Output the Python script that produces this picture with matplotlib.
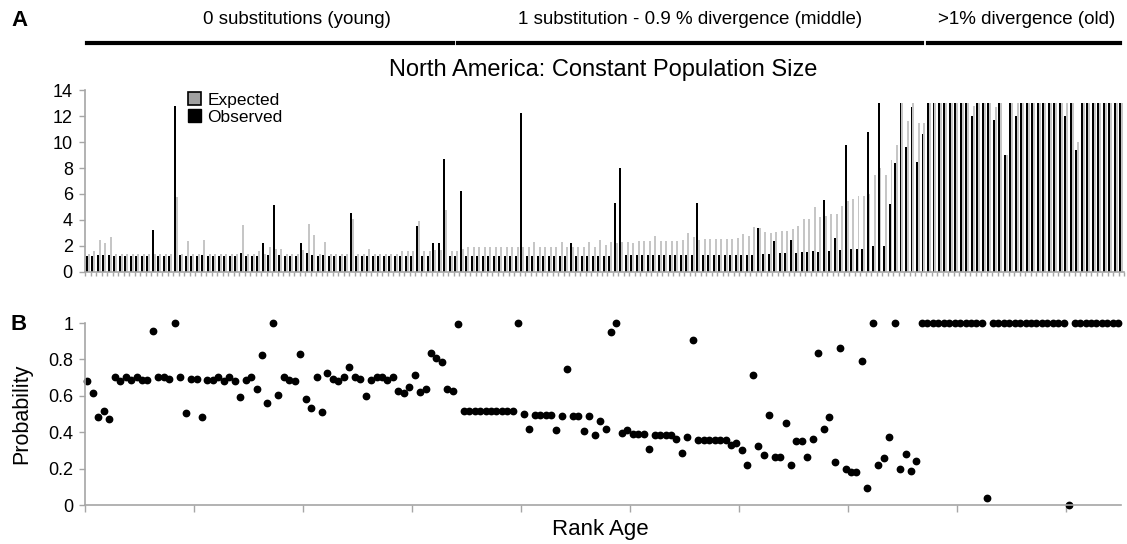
import numpy as np
import matplotlib.pyplot as plt
from matplotlib.patches import Patch
from matplotlib.lines import Line2D

plt.rcParams['font.family'] = ['Liberation Sans', 'DejaVu Sans']

# Panel A: expected vs observed counts per rank (values are cut off at 13)
observed = [
    1.2, 1.2, 1.3, 1.3, 1.3, 1.2, 1.2, 1.2, 1.2, 1.2,
    1.2, 1.2, 3.2, 1.2, 1.2, 1.2, 12.8, 1.3, 1.2, 1.2,
    1.2, 1.3, 1.2, 1.2, 1.2, 1.2, 1.2, 1.2, 1.5, 1.2,
    1.2, 1.2, 2.26, 1.3, 5.15, 1.3, 1.2, 1.2, 1.2, 2.26,
    1.5, 1.3, 1.2, 1.3, 1.2, 1.2, 1.2, 1.2, 4.56, 1.2,
    1.2, 1.2, 1.2, 1.2, 1.2, 1.2, 1.2, 1.2, 1.2, 1.2,
    3.54, 1.2, 1.2, 2.2, 2.26, 8.67, 1.2, 1.2, 6.26, 1.25,
    1.25, 1.25, 1.25, 1.25, 1.25, 1.25, 1.25, 1.25, 1.25, 12.26,
    1.25, 1.25, 1.25, 1.25, 1.25, 1.25, 1.25, 1.25, 2.26, 1.25,
    1.25, 1.25, 1.25, 1.25, 1.25, 1.25, 5.28, 7.97, 1.27, 1.27,
    1.27, 1.27, 1.27, 1.27, 1.27, 1.27, 1.27, 1.27, 1.27, 1.27,
    1.27, 5.33, 1.3, 1.3, 1.3, 1.3, 1.3, 1.3, 1.3, 1.3,
    1.3, 1.3, 3.38, 1.4, 1.4, 2.4, 1.45, 1.45, 2.46, 1.5,
    1.55, 1.55, 1.65, 1.55, 5.54, 1.6, 2.6, 1.7, 9.8, 1.75,
    1.8, 1.8, 10.8, 2.0, 13, 2.0, 5.2, 8.4, 13, 9.6,
    12.7, 8.5, 10.6, 13, 13, 13, 13, 13, 13, 13,
    13, 12.0, 13, 13, 13, 11.7, 13, 9.0, 13, 12.0,
    13, 13, 13, 13, 13, 13, 13, 13, 12.0, 13,
    9.4, 13, 13, 13, 13, 13, 13, 13, 13,
]

expected = [
    1.4, 1.6, 2.5, 2.2, 2.7, 1.4, 1.4, 1.4, 1.4, 1.4,
    1.4, 1.4, 1.4, 1.4, 1.4, 1.4, 5.8, 1.4, 2.4, 1.4,
    1.4, 2.5, 1.4, 1.4, 1.4, 1.4, 1.4, 1.4, 3.6, 1.4,
    1.4, 1.6, 1.4, 1.95, 1.8, 1.8, 1.4, 1.4, 1.4, 1.7,
    3.7, 2.85, 1.4, 2.3, 1.4, 1.4, 1.4, 1.4, 4.1, 1.4,
    1.4, 1.75, 1.4, 1.4, 1.4, 1.4, 1.4, 1.65, 1.65, 1.6,
    3.95, 1.65, 1.65, 1.7, 1.7, 4.8, 1.6, 1.65, 1.8, 1.9,
    1.9, 1.9, 1.9, 1.9, 1.9, 1.9, 1.9, 1.9, 1.9, 1.95,
    1.95, 2.33, 1.95, 1.95, 1.95, 1.95, 2.33, 1.95, 1.95, 1.95,
    1.95, 2.33, 1.95, 2.46, 2.1, 2.3, 2.2, 2.3, 2.3, 2.2,
    2.36, 2.36, 2.36, 2.8, 2.36, 2.36, 2.36, 2.36, 2.5, 3.0,
    2.67, 2.5, 2.54, 2.54, 2.54, 2.54, 2.54, 2.54, 2.6, 2.9,
    2.75, 3.46, 3.4, 3.1, 3.0, 3.08, 3.15, 3.15, 3.33, 3.56,
    4.05, 4.1, 5.0, 4.26, 4.3, 4.5, 4.5, 5.1, 5.5, 5.6,
    5.85, 5.85, 6.0, 7.5, 8.0, 7.5, 8.6, 9.8, 13, 11.6,
    13, 11.5, 11.5, 13, 13, 13, 13, 13, 13, 13,
    13, 12.8, 13, 13, 13, 12.7, 13, 9.0, 13, 13,
    13, 13, 13, 13, 13, 13, 13, 13, 13, 13,
    10.0, 13, 13, 13, 13, 13, 13, 13, 13,
]

# Panel B: probability per rank
probability = [
    0.684, 0.618, 0.486, 0.519, 0.475, 0.705, 0.684, 0.703, 0.688, 0.705,
    0.688, 0.688, 0.956, 0.705, 0.705, 0.695, 1.0, 0.706, 0.506, 0.695,
    0.695, 0.486, 0.688, 0.688, 0.703, 0.684, 0.706, 0.684, 0.591, 0.688,
    0.703, 0.640, 0.822, 0.558, 1.0, 0.602, 0.706, 0.688, 0.684, 0.831,
    0.583, 0.534, 0.706, 0.510, 0.728, 0.694, 0.683, 0.706, 0.756, 0.706,
    0.695, 0.600, 0.688, 0.706, 0.705, 0.688, 0.703, 0.626, 0.618, 0.648,
    0.717, 0.622, 0.640, 0.837, 0.807, 0.785, 0.640, 0.628, 0.993, 0.519,
    0.519, 0.519, 0.516, 0.516, 0.516, 0.516, 0.516, 0.516, 0.516, 1.0,
    0.501, 0.415, 0.494, 0.494, 0.494, 0.494, 0.413, 0.488, 0.747, 0.488,
    0.488, 0.407, 0.488, 0.383, 0.459, 0.420, 0.949, 1.0, 0.394, 0.413,
    0.389, 0.389, 0.389, 0.308, 0.387, 0.387, 0.387, 0.387, 0.363, 0.283,
    0.372, 0.905, 0.356, 0.356, 0.356, 0.356, 0.356, 0.356, 0.327, 0.343,
    0.303, 0.222, 0.712, 0.323, 0.277, 0.495, 0.261, 0.261, 0.453, 0.222,
    0.350, 0.352, 0.266, 0.360, 0.833, 0.415, 0.483, 0.239, 0.862, 0.200,
    0.182, 0.182, 0.793, 0.095, 1.0, 0.218, 0.259, 0.372, 1.0, 0.200,
    0.281, 0.185, 0.242, 1.0, 1.0, 1.0, 1.0, 1.0, 1.0, 1.0,
    1.0, 1.0, 1.0, 1.0, 1.0, 0.04, 1.0, 1.0, 1.0, 1.0,
    1.0, 1.0, 1.0, 1.0, 1.0, 1.0, 1.0, 1.0, 1.0, 1.0,
    0.0, 1.0, 1.0, 1.0, 1.0, 1.0, 1.0, 1.0, 1.0, 1.0,
]

group_labels = ['0 substitutions (young)',
                '1 substitution - 0.9 % divergence (middle)',
                '>1% divergence (old)']

W, H = 1127, 544
axis_grey = '#a6a6a6'
bar_grey = '#c6c6c6'

fig = plt.figure(figsize=(W / 100, H / 100), dpi=100)

# ---- panel A ----
axA = fig.add_axes([85.25 / W, 1 - 272 / H, 1039 / W, 182 / H])
xa = np.arange(len(observed))
axA.bar(xa + 0.16, expected, width=0.36, color=bar_grey, linewidth=0)
axA.bar(xa - 0.2, observed, width=0.36, color='black', linewidth=0)
axA.set_xlim(-0.5, len(observed) - 0.5)
axA.set_ylim(0, 14)
axA.set_yticks(range(0, 15, 2))
axA.set_xticks(np.arange(len(observed) + 1) - 0.5)
axA.set_xticklabels([])
axA.tick_params(axis='x', length=3, width=1, color=axis_grey)
axA.tick_params(axis='y', length=4, width=1, color=axis_grey, labelsize=13, pad=5)
for s in ['top', 'right']:
    axA.spines[s].set_visible(False)
for s in ['left', 'bottom']:
    axA.spines[s].set_color(axis_grey)
    axA.spines[s].set_linewidth(1.2)

handles = [Patch(facecolor='#a0a0a0', edgecolor='black', linewidth=1.2),
           Patch(facecolor='black', edgecolor='black')]
fig.legend(handles, ['Expected', 'Observed'], loc='upper left',
           bbox_to_anchor=(176 / W, 1 - 80 / H), frameon=False, fontsize=12.5,
           handlelength=0.75, handleheight=0.75, handletextpad=0.35,
           labelspacing=0.1, borderpad=0.2)

fig.text(603 / W, 1 - 70 / H, 'North America: Constant Population Size',
         ha='center', va='center', fontsize=17)

# ---- panel B ----
axB = fig.add_axes([84.7 / W, 1 - 505 / H, 1036.3 / W, 182 / H])
xb = np.arange(len(probability))
axB.plot(xb, probability, 'o', color='black', markersize=4.6, clip_on=False)
axB.set_xlim(-0.5, len(probability) - 0.5)
axB.set_ylim(0, 1)
axB.set_yticks([0, 0.2, 0.4, 0.6, 0.8, 1.0])
axB.set_yticklabels(['0', '0.2', '0.4', '0.6', '0.8', '1'])
axB.set_xticks(np.arange(-0.5, len(probability), 20))
axB.set_xticklabels([])
axB.tick_params(axis='x', length=5, width=1, color=axis_grey)
axB.tick_params(axis='y', length=4, width=1, color=axis_grey, labelsize=13, pad=4)
for s in ['top', 'right']:
    axB.spines[s].set_visible(False)
for s in ['left', 'bottom']:
    axB.spines[s].set_color(axis_grey)
    axB.spines[s].set_linewidth(1.2)

fig.text(22 / W, 1 - 414 / H, 'Probability', rotation=90,
         ha='center', va='center', fontsize=15.5)
fig.text(600 / W, 1 - 530 / H, 'Rank Age', ha='center', va='center', fontsize=16)

# panel letters
fig.text(19 / W, 1 - 20 / H, 'A', ha='center', va='center', fontsize=16, fontweight='bold')
fig.text(19 / W, 1 - 325 / H, 'B', ha='center', va='center', fontsize=16, fontweight='bold')

# age group brackets
spans = [(87, 453), (458, 922), (928, 1120)]
centers = [297, 690, 1027]
for (x0, x1), xc, label in zip(spans, centers, group_labels):
    fig.add_artist(Line2D([x0 / W, x1 / W], [1 - 43 / H, 1 - 43 / H],
                          color='black', linewidth=3))
    fig.text(xc / W, 1 - 20 / H, label, ha='center', va='center', fontsize=13.5)

fig.savefig('out.png', dpi=100)
